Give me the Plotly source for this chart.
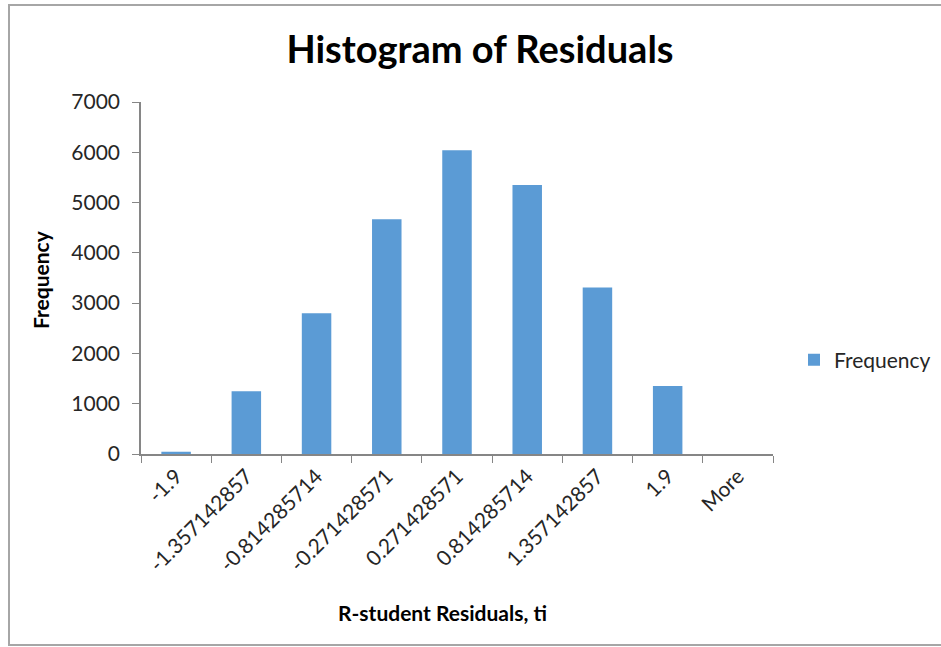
import plotly.graph_objects as go

# Histogram bins (upper bin edges) and their counts
bins = ["-1.9", "-1.357142857", "-0.814285714", "-0.271428571", "0.271428571",
        "0.814285714", "1.357142857", "1.9", "More"]
frequency = [45, 1250, 2800, 4670, 6040, 5350, 3310, 1350, 0]

FONT = "Lato"
BAR_COLOR = "#5B9BD5"
AXIS_COLOR = "#868686"

W, H = 941, 647
L, R, T, B = 141, 168, 102, 193
pw, ph = W - L - R, H - T - B


def px_x(x):
    return (x - L) / pw


def px_y(y):
    return (H - B - y) / ph


fig = go.Figure(
    go.Bar(
        x=bins,
        y=frequency,
        name="Frequency",
        marker=dict(color=BAR_COLOR, line=dict(width=0)),
        showlegend=True,
    )
)

fig.update_layout(
    width=W,
    height=H,
    autosize=False,
    margin=dict(l=L, r=R, t=T, b=B, autoexpand=False),
    paper_bgcolor="white",
    plot_bgcolor="white",
    bargap=0.58,
    font=dict(family=FONT, color="#000000"),
    title=dict(
        text="<b>Histogram of Residuals</b>",
        x=480 / W,
        xref="container",
        xanchor="center",
        y=1 - 50 / H,
        yref="container",
        yanchor="middle",
        font=dict(family=FONT, size=38, color="#000000"),
    ),
    legend=dict(
        x=px_x(794),
        y=px_y(360),
        xanchor="left",
        yanchor="middle",
        font=dict(family=FONT, size=21, color="#262626"),
        bgcolor="rgba(0,0,0,0)",
    ),
    xaxis=dict(
        type="category",
        showline=True,
        linecolor=AXIS_COLOR,
        linewidth=1.5,
        ticks="outside",
        tickson="boundaries",
        ticklen=7,
        tickcolor=AXIS_COLOR,
        tickangle=-45,
        tickfont=dict(family=FONT, size=21, color="#262626"),
        showgrid=False,
        zeroline=False,
    ),
    yaxis=dict(
        range=[0, 7000],
        dtick=1000,
        showline=True,
        linecolor=AXIS_COLOR,
        linewidth=1.5,
        ticks="outside",
        ticklen=7,
        tickcolor=AXIS_COLOR,
        ticklabelstandoff=8,
        tickfont=dict(family=FONT, size=21, color="#262626"),
        showgrid=False,
        zeroline=False,
    ),
)

# Axis titles placed as annotations
fig.add_annotation(
    text="<b>R-student Residuals, ti</b>",
    xref="paper", yref="paper",
    x=px_x(442), y=px_y(612),
    xanchor="center", yanchor="middle",
    showarrow=False,
    font=dict(family=FONT, size=21, color="#000000"),
)
fig.add_annotation(
    text="<b>Frequency</b>",
    xref="paper", yref="paper",
    x=px_x(40), y=px_y(280),
    xanchor="center", yanchor="middle",
    textangle=-90,
    showarrow=False,
    font=dict(family=FONT, size=21, color="#000000"),
)

# Outer chart frame
fig.add_shape(
    type="rect",
    xref="paper", yref="paper",
    x0=px_x(9), x1=px_x(950), y0=px_y(645), y1=px_y(5),
    line=dict(color="#A6A6A6", width=2),
    fillcolor="rgba(0,0,0,0)",
    layer="below",
)

fig.write_html("out.html")
